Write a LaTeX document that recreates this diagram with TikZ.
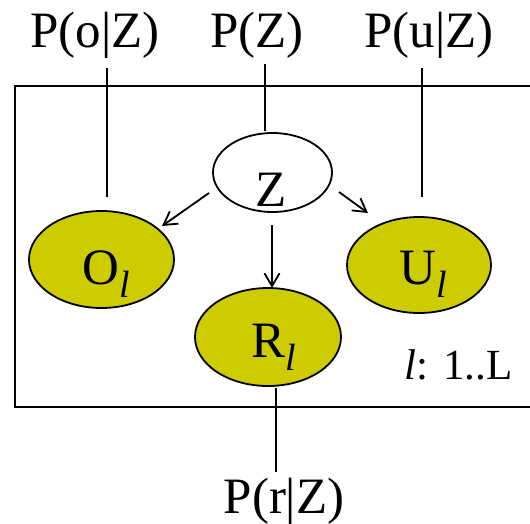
\documentclass[tikz,border=0pt]{standalone}
\usepackage{fontspec}
\setmainfont{Liberation Serif}[ItalicFont={Liberation Serif Italic}]
\usetikzlibrary{shapes.geometric,arrows.meta,calc}
\definecolor{nodeyellow}{RGB}{204,204,0}
\newcommand{\lsub}{\raisebox{-13pt}{\fontsize{38}{38}\selectfont\itshape l}}
\begin{document}
\begin{tikzpicture}[x=1pt,y=-1pt,line width=1.8pt,
  lbl/.style={font=\fontsize{51}{51}\selectfont,anchor=base,inner sep=0pt},
  plate/.style={line width=1.8pt},
  latent/.style={ellipse,draw,fill=white,inner sep=0pt},
  observed/.style={ellipse,draw,fill=nodeyellow,inner sep=0pt},
  arr/.style={-{Straight Barb[length=13pt,width=15pt]},line width=1.8pt}]
\useasboundingbox (0,0) rectangle (530,523);
% plate
\draw[plate] (530,86) -- (15,86) -- (15,407) -- (530,407);
% nodes
\node[latent,minimum width=119pt,minimum height=79pt] (Z) at (272.5,172.5) {};
\node[observed,minimum width=145pt,minimum height=97pt] (O) at (101.5,259.5) {};
\node[observed,minimum width=144pt,minimum height=96pt] (U) at (419,265) {};
\node[observed,minimum width=146pt,minimum height=98pt] (R) at (268,337) {};
\node[lbl] (zt) at (271,206) {Z};
\node[lbl] (ot) at (106.5,284) {O\lsub};
\node[lbl] (ut) at (423.5,284) {U\lsub};
\node[lbl] (rt) at (274,357) {R\lsub};
% labels
\node[lbl] (po) at (95,47) {P(o|Z)};
\node[lbl] (pz) at (257,47) {P(Z)};
\node[lbl] (pu) at (429,47) {P(u|Z)};
\node[lbl] (pr) at (284,513) {P(r|Z)};
\node[lbl,anchor=base west,font=\fontsize{43}{43}\selectfont] (pl) at (404,379) {\textit{l}: 1..L};
% parameter lines
\coordinate (po1) at (107,68);  \coordinate (po2) at (107,197);
\coordinate (pz1) at (265,64);  \coordinate (pz2) at (265,131);
\coordinate (pu1) at (422,68);  \coordinate (pu2) at (422,197);
\coordinate (pr1) at (276,388); \coordinate (pr2) at (276,472);
\draw (po1) -- (po2);
\draw (pz1) -- (pz2);
\draw (pu1) -- (pu2);
\draw (pr1) -- (pr2);
% arrows
\draw[arr] ($(Z.center)+(-63.5,20.5)$) -- ($(O.center)+(60.5,-33.5)$);
\draw[arr] ($(Z.center)+(66.5,19.5)$) -- ($(U.center)+(-51,-52)$);
\draw[arr] ($(Z.center)+(-0.5,52.5)$) -- ($(R.center)+(4,-49)$);
\end{tikzpicture}
\end{document}
